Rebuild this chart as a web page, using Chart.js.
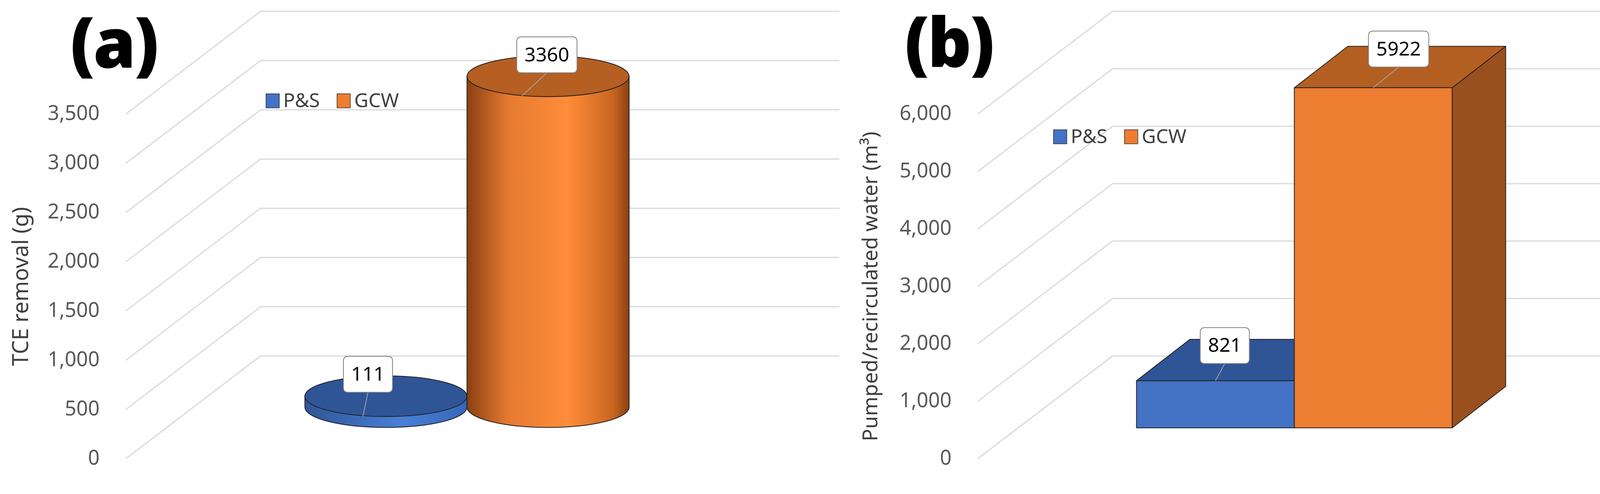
<!DOCTYPE html>
<html><head><meta charset="utf-8">
<script src="https://cdn.jsdelivr.net/npm/chart.js@4"></script>
<style>
body{margin:0;background:#fff;width:4298px;height:1264px;position:relative;overflow:hidden;font-family:"Noto Sans",sans-serif}
canvas{position:absolute;top:0}
.tag{position:absolute;font-family:"Noto Sans",sans-serif;font-weight:900;font-size:175px;line-height:1;color:#000;letter-spacing:-4px}
</style></head><body>
<canvas id="ca" width="2149" height="1264" style="left:0"></canvas>
<canvas id="cb" width="2149" height="1264" style="left:2149px"></canvas>
<div class="tag" style="left:180px;top:18px">(a)</div>
<div class="tag" style="left:2316px;top:16px">(b)</div>
<script>
const categories = [""];
const seriesNames = ["P&S", "GCW"];
const tceRemoval = [111, 3360];
const pumpedWater = [821, 5922];
const ticksA = [0, 500, 1000, 1500, 2000, 2500, 3000, 3500];
const ticksB = [0, 1000, 2000, 3000, 4000, 5000, 6000];
const colFront = ["#4472C4", "#ED7D31"];

const FONT = '"Noto Sans", sans-serif';
const DEPTH_X = 345, DEPTH_Y = 263;

function rr(ctx,x,y,w,h,r){ctx.beginPath();ctx.moveTo(x+r,y);ctx.lineTo(x+w-r,y);ctx.quadraticCurveTo(x+w,y,x+w,y+r);ctx.lineTo(x+w,y+h-r);ctx.quadraticCurveTo(x+w,y+h,x+w-r,y+h);ctx.lineTo(x+r,y+h);ctx.quadraticCurveTo(x,y+h,x,y+h-r);ctx.lineTo(x,y+r);ctx.quadraticCurveTo(x,y,x+r,y);ctx.closePath();}

function label(ctx,text,cx,cy,lx,ly){
  ctx.save();
  ctx.strokeStyle="#a6a6a6";ctx.lineWidth=2;
  ctx.beginPath();ctx.moveTo(cx,cy+46);ctx.lineTo(lx,ly);ctx.stroke();
  ctx.font='50px '+FONT;
  const w=ctx.measureText(text).width+40;
  rr(ctx,cx-w/2,cy-46,w,92,12);
  ctx.fillStyle="#fff";ctx.fill();ctx.strokeStyle="#7f7f7f";ctx.lineWidth=2;ctx.stroke();
  ctx.fillStyle="#000";ctx.textAlign="center";ctx.textBaseline="middle";
  ctx.fillText(text,cx,cy+2);
  ctx.restore();
}

function legend(ctx,x,y){
  ctx.save();ctx.font='50px '+FONT;ctx.textBaseline="middle";
  let cx=x;
  seriesNames.forEach((n,i)=>{
    ctx.fillStyle=colFront[i];ctx.fillRect(cx,y-18,34,36);
    ctx.strokeStyle="#333";ctx.lineWidth=1.5;ctx.strokeRect(cx,y-18,34,36);
    ctx.fillStyle="#404040";ctx.fillText(n,cx+44,y+2);
    cx+=44+ctx.measureText(n).width+44;
  });
  ctx.restore();
}

const gridPlugin = {
  id:'grid3d',
  beforeDatasetsDraw(chart){
    const ctx=chart.ctx, y=chart.scales.y, a=chart.chartArea;
    ctx.save();ctx.strokeStyle="#d9d9d9";ctx.lineWidth=3;
    y.ticks.forEach(t=>{
      const py=y.getPixelForValue(t.value);
      ctx.beginPath();ctx.moveTo(a.left,py);ctx.lineTo(a.left+DEPTH_X,py-DEPTH_Y);
      ctx.lineTo(a.right+DEPTH_X,py-DEPTH_Y);ctx.stroke();
    });
    ctx.restore();
  }
};

function cylPlugin(values){ return {
  id:'cyl',
  afterDatasetsDraw(chart){
    const ctx=chart.ctx, y=chart.scales.y;
    const dx=35, dy=-132, ry=52;
    const shapes=[];
    [0,1].forEach(i=>{
      const el=chart.getDatasetMeta(i).data[0];
      const cx=el.x+dx, rx=el.width/2;
      const yb=y.getPixelForValue(0)+dy, yt=y.getPixelForValue(values[i])+dy;
      shapes.push({cx,rx,yb,yt});
      const g=ctx.createLinearGradient(cx-rx,0,cx+rx,0);
      if(i===1){g.addColorStop(0,"#8a3f12");g.addColorStop(0.25,"#e57a30");g.addColorStop(0.62,"#ff8d3a");g.addColorStop(0.9,"#c9661f");g.addColorStop(1,"#8a3f12");}
      else{g.addColorStop(0,"#2f5597");g.addColorStop(0.6,"#4a7fd8");g.addColorStop(1,"#3566b8");}
      ctx.save();
      ctx.beginPath();
      ctx.moveTo(cx-rx,yt);ctx.lineTo(cx-rx,yb);
      ctx.ellipse(cx,yb,rx,ry,0,Math.PI,0,true);
      ctx.lineTo(cx+rx,yt);ctx.closePath();
      ctx.fillStyle=g;ctx.fill();ctx.strokeStyle="#1f1f1f";ctx.lineWidth=2;ctx.stroke();
      ctx.beginPath();ctx.ellipse(cx,yt,rx,ry,0,0,Math.PI*2);
      ctx.fillStyle=i===1?"#b55f22":"#2f5597";ctx.fill();ctx.stroke();
      ctx.restore();
    });
    legend(ctx,681,258);
    label(ctx,String(values[0]),shapes[0].cx-46,shapes[0].yt-56,shapes[0].cx-59,shapes[0].yt+52);
    label(ctx,String(values[1]),shapes[1].cx-3,shapes[1].yt-55,shapes[1].cx-67,shapes[1].yt+50);
  }
};}

function boxPlugin(values){ return {
  id:'box',
  afterDatasetsDraw(chart){
    const ctx=chart.ctx, y=chart.scales.y;
    const dx=117, dy=-79, bx=137, by=-106;
    const tops=["#2f5597","#b45f22"], sides=["#2a4d8a","#9a4f1e"];
    const sh=[];
    [0,1].forEach(i=>{
      const el=chart.getDatasetMeta(i).data[0];
      const x0=el.x+dx-el.width/2, x1=el.x+dx+el.width/2;
      const yb=y.getPixelForValue(0)+dy, yt=y.getPixelForValue(values[i])+dy;
      sh.push({x0,x1,yb,yt});
    });
    ctx.save();ctx.strokeStyle="#1f1f1f";ctx.lineWidth=2;ctx.lineJoin="round";
    [0,1].forEach(i=>{
      const s=sh[i];
      ctx.beginPath();ctx.moveTo(s.x1,s.yt);ctx.lineTo(s.x1+bx,s.yt+by);ctx.lineTo(s.x1+bx,s.yb+by);ctx.lineTo(s.x1,s.yb);ctx.closePath();
      ctx.fillStyle=sides[i];ctx.fill();ctx.stroke();
      ctx.beginPath();ctx.moveTo(s.x0,s.yt);ctx.lineTo(s.x0+bx,s.yt+by);ctx.lineTo(s.x1+bx,s.yt+by);ctx.lineTo(s.x1,s.yt);ctx.closePath();
      ctx.fillStyle=tops[i];ctx.fill();ctx.stroke();
      ctx.fillStyle=colFront[i];ctx.fillRect(s.x0,s.yt,s.x1-s.x0,s.yb-s.yt);ctx.strokeRect(s.x0,s.yt,s.x1-s.x0,s.yb-s.yt);
    });
    ctx.restore();
    legend(ctx,548,350);
    [0,1].forEach(i=>{
      const s=sh[i], c=(s.x0+s.x1)/2;
      label(ctx,String(values[i]),c+(i?65:24),s.yt+(i?-99:-90),c,s.yt);
    });
  }
};}

function makeChart(id,values,ticks,max,title,titleSize,axisW,padRight,titlePad,catPct,plugin){
  return new Chart(document.getElementById(id),{
    type:'bar',
    data:{labels:categories,datasets:seriesNames.map((n,i)=>({label:n,data:[values[i]],backgroundColor:'rgba(0,0,0,0)',borderWidth:0}))},
    options:{
      responsive:false,animation:false,devicePixelRatio:1,
      layout:{padding:{top:292,bottom:55,left:0,right:padRight}},
      datasets:{bar:{categoryPercentage:catPct,barPercentage:1}},
      plugins:{legend:{display:false},tooltip:{enabled:false}},
      scales:{
        x:{display:false},
        y:{min:0,max:max,
          afterFit(s){s.width=axisW;},
          afterBuildTicks(s){s.ticks=ticks.map(v=>({value:v}));},
          grid:{display:false},border:{display:false},
          ticks:{padding:59,color:'#595959',font:{family:FONT,size:52},callback:v=>v.toLocaleString('en-US')},
          title:{display:true,text:title,color:'#404040',font:{family:FONT,size:titleSize},padding:{top:titlePad,bottom:0}}
        }
      }
    },
    plugins:[gridPlugin,plugin]
  });
}

makeChart('ca',tceRemoval,ticksA,3500,'TCE removal (g)',56,322,150,22,0.495,cylPlugin(tceRemoval));
makeChart('cb',pumpedWater,ticksB,6000,'Pumped/recirculated water (m³)',53,354,408,50,0.5826,boxPlugin(pumpedWater));
</script>
</body></html>
